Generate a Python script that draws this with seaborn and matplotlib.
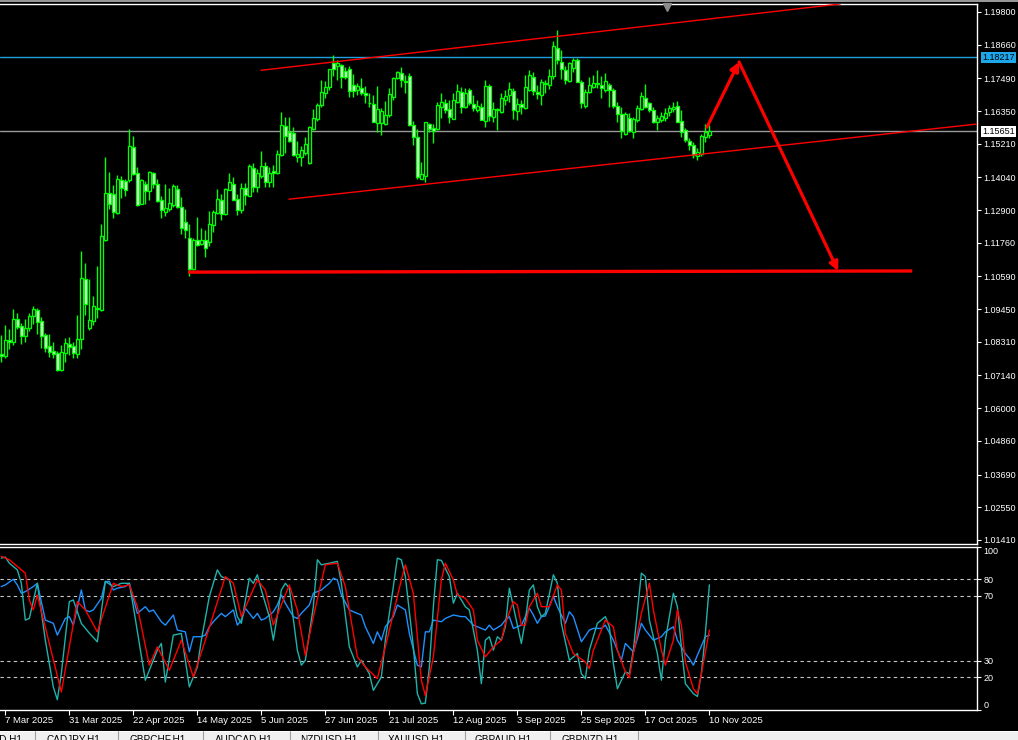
import numpy as np
import pandas as pd
import matplotlib
matplotlib.use("Agg")
import matplotlib.pyplot as plt
from matplotlib.transforms import blended_transform_factory
from matplotlib.lines import Line2D
import seaborn as sns

# ---------------- data ----------------
dates = pd.bdate_range("2025-03-06", periods=178)

opens = [1.0790,1.0783,1.0837,1.0832,1.0910,1.0885,1.0850,1.0878,1.0920,1.0941,
         1.0904,1.0855,1.0816,1.0799,1.0792,1.0733,1.0793,1.0825,1.0817,1.0790,
         1.0840,1.1049,1.0880,1.0904,1.0949,1.0943,1.1187,1.1349,1.1345,1.1279,
         1.1394,1.1391,1.1394,1.1509,1.1418,1.1312,1.1380,1.1358,1.1418,1.1380,
         1.1324,1.1284,1.1294,1.1308,1.1364,1.1301,1.1248,1.1192,1.1085,1.1186,
         1.1173,1.1186,1.1178,1.1238,1.1279,1.1325,1.1275,1.1361,1.1380,1.1329,
         1.1290,1.1367,1.1340,1.1436,1.1369,1.1409,1.1444,1.1389,1.1426,1.1420,
         1.1482,1.1582,1.1562,1.1557,1.1476,1.1474,1.1488,1.1453,1.1573,1.1606,
         1.1655,1.1697,1.1720,1.1804,1.1792,1.1795,1.1776,1.1780,1.1726,1.1708,
         1.1714,1.1699,1.1664,1.1658,1.1595,1.1595,1.1590,1.1620,1.1685,1.1750,
         1.1767,1.1741,1.1757,1.1585,1.1544,1.1399,1.1409,1.1590,1.1576,1.1571,
         1.1650,1.1662,1.1641,1.1609,1.1668,1.1701,1.1648,1.1708,1.1658,1.1640,
         1.1649,1.1600,1.1722,1.1615,1.1638,1.1633,1.1674,1.1690,1.1705,1.1635,
         1.1658,1.1645,1.1710,1.1755,1.1703,1.1691,1.1731,1.1726,1.1758,1.1854,
         1.1807,1.1779,1.1740,1.1786,1.1812,1.1735,1.1652,1.1700,1.1720,1.1730,
         1.1726,1.1709,1.1726,1.1709,1.1652,1.1624,1.1554,1.1610,1.1563,1.1605,
         1.1641,1.1679,1.1662,1.1638,1.1598,1.1605,1.1612,1.1631,1.1641,1.1652,
         1.1600,1.1569,1.1531,1.1517,1.1480,1.1487,1.1545,1.1553]
highs = [1.0855,1.0890,1.0876,1.0946,1.0931,1.0896,1.0910,1.0931,1.0956,1.0948,
         1.0918,1.0861,1.0857,1.0830,1.0801,1.0820,1.0844,1.0848,1.0830,1.0925,
         1.1148,1.1106,1.1050,1.0991,1.1095,1.1242,1.1475,1.1423,1.1377,1.1412,
         1.1410,1.1398,1.1573,1.1548,1.1440,1.1398,1.1391,1.1426,1.1424,1.1398,
         1.1340,1.1380,1.1366,1.1380,1.1378,1.1336,1.1294,1.1243,1.1192,1.1266,
         1.1227,1.1220,1.1287,1.1290,1.1364,1.1345,1.1366,1.1419,1.1406,1.1346,
         1.1383,1.1385,1.1451,1.1453,1.1432,1.1496,1.1457,1.1439,1.1447,1.1499,
         1.1632,1.1613,1.1613,1.1578,1.1532,1.1513,1.1544,1.1583,1.1641,1.1664,
         1.1743,1.1741,1.1780,1.1830,1.1813,1.1799,1.1787,1.1792,1.1764,1.1732,
         1.1749,1.1722,1.1697,1.1691,1.1722,1.1645,1.1671,1.1714,1.1753,1.1776,
         1.1787,1.1761,1.1769,1.1602,1.1572,1.1459,1.1598,1.1592,1.1590,1.1668,
         1.1699,1.1676,1.1673,1.1699,1.1729,1.1718,1.1714,1.1714,1.1691,1.1674,
         1.1662,1.1743,1.1728,1.1666,1.1645,1.1697,1.1708,1.1737,1.1716,1.1679,
         1.1673,1.1761,1.1778,1.1772,1.1726,1.1747,1.1743,1.1782,1.1879,1.1917,
         1.1848,1.1791,1.1807,1.1821,1.1819,1.1743,1.1712,1.1755,1.1761,1.1778,
         1.1758,1.1767,1.1732,1.1716,1.1666,1.1650,1.1631,1.1627,1.1615,1.1656,
         1.1702,1.1728,1.1668,1.1650,1.1621,1.1631,1.1647,1.1656,1.1668,1.1670,
         1.1639,1.1577,1.1540,1.1528,1.1505,1.1554,1.1589,1.1588]
lows = [1.0762,1.0776,1.0806,1.0820,1.0876,1.0823,1.0830,1.0869,1.0892,1.0857,
        1.0811,1.0795,1.0779,1.0774,1.0730,1.0730,1.0762,1.0785,1.0776,1.0776,
        1.0806,1.0925,1.0873,1.0890,1.0913,1.0940,1.1182,1.1294,1.1261,1.1275,
        1.1333,1.1340,1.1387,1.1412,1.1305,1.1310,1.1312,1.1325,1.1366,1.1317,
        1.1264,1.1270,1.1287,1.1302,1.1297,1.1208,1.1193,1.1062,1.1080,1.1166,
        1.1168,1.1128,1.1166,1.1213,1.1275,1.1255,1.1273,1.1359,1.1325,1.1273,
        1.1280,1.1308,1.1339,1.1354,1.1354,1.1403,1.1369,1.1371,1.1371,1.1416,
        1.1479,1.1488,1.1528,1.1478,1.1459,1.1444,1.1482,1.1451,1.1569,1.1601,
        1.1650,1.1679,1.1708,1.1757,1.1743,1.1714,1.1746,1.1685,1.1685,1.1691,
        1.1691,1.1662,1.1650,1.1598,1.1562,1.1552,1.1586,1.1615,1.1674,1.1748,
        1.1720,1.1697,1.1583,1.1517,1.1397,1.1397,1.1389,1.1563,1.1525,1.1569,
        1.1610,1.1627,1.1592,1.1606,1.1664,1.1629,1.1645,1.1656,1.1635,1.1631,
        1.1604,1.1581,1.1600,1.1598,1.1569,1.1627,1.1656,1.1668,1.1607,1.1604,
        1.1624,1.1642,1.1705,1.1691,1.1677,1.1656,1.1697,1.1712,1.1747,1.1798,
        1.1747,1.1730,1.1737,1.1772,1.1735,1.1645,1.1645,1.1697,1.1716,1.1714,
        1.1682,1.1702,1.1650,1.1645,1.1596,1.1540,1.1552,1.1561,1.1540,1.1598,
        1.1639,1.1645,1.1633,1.1592,1.1569,1.1598,1.1601,1.1619,1.1633,1.1598,
        1.1546,1.1526,1.1499,1.1471,1.1464,1.1480,1.1526,1.1541]
closes = [1.0783,1.0837,1.0832,1.0910,1.0884,1.0850,1.0878,1.0920,1.0945,1.0901,
          1.0853,1.0809,1.0797,1.0790,1.0733,1.0795,1.0826,1.0814,1.0793,1.0840,
          1.1053,1.0962,1.0906,1.0956,1.0947,1.1199,1.1349,1.1310,1.1282,1.1397,
          1.1366,1.1359,1.1512,1.1417,1.1308,1.1395,1.1357,1.1422,1.1382,1.1322,
          1.1291,1.1296,1.1314,1.1373,1.1301,1.1227,1.1220,1.1085,1.1186,1.1168,
          1.1186,1.1159,1.1241,1.1282,1.1329,1.1278,1.1364,1.1387,1.1326,1.1290,
          1.1367,1.1343,1.1444,1.1369,1.1418,1.1444,1.1389,1.1418,1.1418,1.1485,
          1.1585,1.1548,1.1532,1.1483,1.1485,1.1499,1.1520,1.1578,1.1611,1.1656,
          1.1701,1.1718,1.1780,1.1780,1.1802,1.1755,1.1755,1.1706,1.1706,1.1722,
          1.1697,1.1690,1.1662,1.1598,1.1641,1.1635,1.1620,1.1694,1.1749,1.1771,
          1.1743,1.1737,1.1585,1.1544,1.1404,1.1416,1.1597,1.1574,1.1567,1.1656,
          1.1666,1.1639,1.1615,1.1673,1.1704,1.1648,1.1699,1.1662,1.1645,1.1652,
          1.1605,1.1722,1.1619,1.1642,1.1642,1.1679,1.1686,1.1712,1.1640,1.1659,
          1.1650,1.1720,1.1761,1.1705,1.1694,1.1735,1.1728,1.1758,1.1863,1.1812,
          1.1782,1.1742,1.1801,1.1812,1.1735,1.1662,1.1700,1.1726,1.1733,1.1733,
          1.1714,1.1740,1.1709,1.1654,1.1625,1.1566,1.1624,1.1566,1.1607,1.1645,
          1.1686,1.1650,1.1639,1.1598,1.1610,1.1617,1.1627,1.1647,1.1650,1.1598,
          1.1563,1.1535,1.1517,1.1482,1.1494,1.1549,1.1563,1.1565]

price_ticks = [1.19800,1.18660,1.17490,1.16350,1.15210,1.14040,1.12900,1.11760,
               1.10590,1.09450,1.08310,1.07140,1.06000,1.04860,1.03690,1.02550,1.01410]
marked_level = 1.18217
bid_price = 1.15651

upper_channel_idx = [64.9, 209.7]
upper_channel_px = [1.1777, 1.2008]
lower_channel_idx = [71.9, 244.7]
lower_channel_px = [1.1328, 1.1591]
target_idx = [46.7, 227.7]
target_px = [1.1074, 1.1078]
path_idx = [176.4, 184.4, 209.2]
path_px = [1.1579, 1.1806, 1.1078]

sto_main_idx = [0,1,2,4,5,6,7,9,11,13,14,15,17,18,20,22,24,26,28,30,32,33,36,38,39,40,41,43,45,47,
                49,50,52,54,55,57,59,60,62,63,64,65,67,68,70,71,72,74,75,76,78,79,80,82,84,85,87,89,90,92,
                93,95,96,98,99,100,101,103,104,105,106,107,108,109,110,112,113,114,116,117,119,120,121,122,
                123,124,125,126,127,128,130,131,132,133,134,135,136,138,139,140,142,144,145,146,147,149,151,
                152,153,154,156,157,158,160,161,162,164,165,166,168,169,170,171,173,174,175,176,177]
sto_main = [92.9,93.5,89.8,85.7,77.5,55.0,56.0,77.5,42.7,14.1,6.3,22.2,66.3,67.3,53.0,47.0,41.7,78.6,75.5,77.5,
            77.5,63.2,18.2,30.4,36.6,40.7,17.1,45.8,46.8,14.1,26.3,42.7,69.4,85.7,81.6,79.6,57.1,53.0,80.6,77.5,
            82.7,73.4,57.1,42.7,73.4,77.5,74.5,36.6,27.4,30.4,63.2,91.9,88.8,89.8,90.9,77.5,38.6,26.3,30.4,22.2,
            12.0,20.2,42.7,75.5,92.9,91.9,81.6,38.6,10.0,3.8,4.2,26.3,63.2,91.9,91.5,81.6,65.3,71.4,63.2,61.2,
            36.6,16.1,42.7,44.8,36.6,44.8,42.7,50.9,74.5,63.2,40.7,55.0,73.4,76.5,63.2,57.1,59.1,82.7,77.5,53.0,
            30.4,34.5,22.2,19.2,36.6,53.0,57.1,50.9,28.4,13.0,23.3,22.2,36.6,83.7,81.6,55.0,34.5,18.2,42.7,71.4,
            63.2,38.6,16.1,10.0,8.3,22.2,46.8,76.5]
sto_signal_idx = [0,2,4,6,7,8,9,15,19,21,24,28,30,32,34,37,39,42,45,48,51,56,58,60,64,66,68,72,74,76,
                  78,81,84,86,89,91,94,96,100,101,103,105,106,108,110,111,113,114,116,118,119,121,123,125,126,128,129,130,
                  131,132,134,135,137,139,140,141,143,146,147,148,150,151,153,154,156,157,158,160,162,163,165,166,168,169,
                  170,171,173,174,175,177]
sto_signal = [94.0,91.9,87.8,83.7,67.3,61.2,70.4,11.0,66.3,61.2,47.8,77.5,75.5,76.5,63.2,27.4,38.6,24.3,42.7,20.2,
              42.7,81.6,77.5,57.1,79.6,73.4,52.0,76.5,61.2,33.5,57.1,88.8,89.8,75.5,32.5,26.3,19.2,38.6,79.6,88.8,
              71.4,18.2,8.9,32.5,79.6,89.8,79.6,70.4,68.3,61.2,42.7,32.5,38.6,42.7,53.0,66.3,64.2,51.9,51.9,63.2,
              71.4,63.2,63.2,76.5,73.4,46.8,34.5,29.4,25.3,36.6,48.9,55.0,50.9,36.6,23.3,19.8,34.5,59.1,77.5,61.2,
              36.6,27.4,42.7,61.2,51.9,29.4,13.0,10.0,22.2,48.9]
rsi_idx = [0,1,3,4,5,6,8,9,10,11,13,14,16,17,18,20,21,22,23,25,26,27,28,29,31,32,33,34,36,37,
           38,40,41,43,44,46,47,48,50,51,52,53,55,56,58,59,60,61,63,64,65,66,68,69,70,71,73,74,75,77,
           78,80,82,83,84,85,87,88,90,91,93,94,95,96,98,99,101,102,104,105,106,107,108,110,111,113,115,116,118,120,
           121,122,123,125,126,127,128,129,130,132,133,134,135,136,138,139,141,142,143,145,147,148,150,151,153,155,156,158,
           159,160,161,163,165,166,168,169,171,172,173,174,176,177]
rsi = [75.5,76.5,80.0,76.5,71.4,72.4,75.5,77.5,66.3,55.0,53.0,45.8,56.0,57.1,51.9,73.4,61.2,60.1,61.2,68.3,
       78.6,78.6,73.4,74.5,75.5,77.5,68.3,59.1,63.2,60.1,61.2,54.0,51.9,58.1,48.9,47.8,35.6,44.8,44.8,45.8,
       50.9,54.0,59.1,57.1,61.2,51.9,55.0,62.2,56.0,59.1,55.0,56.0,60.1,64.2,70.4,65.3,57.1,56.0,59.1,64.2,
       71.4,73.4,77.5,80.6,79.6,70.4,61.2,60.1,58.1,50.9,40.7,47.8,42.7,50.9,57.1,64.2,61.2,46.8,27.4,26.3,
       47.8,47.8,55.0,54.0,56.0,58.1,57.1,57.1,51.9,49.9,48.9,51.9,48.9,51.9,55.0,57.1,49.9,50.9,51.9,62.2,
       58.1,53.0,57.1,57.5,69.4,63.2,53.0,60.1,57.1,41.7,48.9,49.9,49.9,51.9,42.7,30.4,40.7,35.6,43.7,53.0,
       48.9,42.7,44.8,47.8,50.9,42.7,34.5,31.5,27.4,33.5,44.8,45.8]
levels = [20, 30, 70, 80]
ind_labels = [100, 80, 70, 30, 20, 0]
tabs = ["EURUSD,H1", "CADJPY,H1", "GBPCHF,H1", "AUDCAD,H1", "NZDUSD,H1",
        "XAUUSD,H1", "GBPAUD,H1", "GBPNZD,H1"]

# ---------------- style ----------------
sns.set_theme(style="dark")
plt.rcParams["font.family"] = ["Liberation Sans", "DejaVu Sans"]
FS = 6.5
LIME = "#00FF00"

W, H = 1018, 740
fig = plt.figure(figsize=(W / 100, H / 100), dpi=100, facecolor="black")


def rect(x0, y0, x1, y1):
    return [x0 / W, 1 - y1 / H, (x1 - x0) / W, (y1 - y0) / H]


ax = fig.add_axes(rect(0, 3.5, 977, 543.5))
ax2 = fig.add_axes(rect(0, 546.5, 977, 710))
XL = (-0.33, 243.9)

for a in (ax, ax2):
    a.set_facecolor("black")
    a.grid(False)
    a.set_xlim(*XL)
    for s in ("top", "right", "bottom"):
        a.spines[s].set_visible(True)
        a.spines[s].set_color("white")
        a.spines[s].set_linewidth(1.0)
    a.spines["left"].set_visible(False)

# ---------------- candles ----------------
o = np.array(opens); h = np.array(highs); l = np.array(lows); c = np.array(closes)
idx = np.arange(len(o))
ax.vlines(idx, l, h, color=LIME, linewidth=1.0, zorder=3)
bottoms = np.minimum(o, c)
heights = np.maximum(np.abs(c - o), 0.00004)
fills = np.where(c >= o, "black", "white")
ax.bar(idx, heights, bottom=bottoms, width=0.75, color=fills, edgecolor=LIME,
       linewidth=0.95, zorder=4)

ax.set_ylim(1.01288, 1.20096)

# horizontal lines
ax.axhline(marked_level, color="#1E9FE0", linewidth=1.0, zorder=2)
ax.axhline(bid_price, color="#9A9A9A", linewidth=1.0, zorder=2)

# trend lines & target
ax.plot(upper_channel_idx, upper_channel_px, color="red", linewidth=1.0, zorder=5)
ax.plot(lower_channel_idx, lower_channel_px, color="red", linewidth=1.0, zorder=5)
ax.plot(target_idx, target_px, color="red", linewidth=2.4, solid_capstyle="butt", zorder=5)
for i in range(len(path_idx) - 1):
    ax.annotate("", xy=(path_idx[i + 1], path_px[i + 1]), xytext=(path_idx[i], path_px[i]),
                arrowprops=dict(arrowstyle="-|>", color="red", lw=2.3, mutation_scale=13,
                                shrinkA=0, shrinkB=0), zorder=6)

# shift marker
ax.plot([166.5], [0.993], marker="v", markersize=6, color="#8C8C8C",
        transform=blended_transform_factory(ax.transData, ax.transAxes), clip_on=False, zorder=7)

# price axis
ax.yaxis.tick_right()
ax.set_yticks(price_ticks)
ax.set_yticklabels([f"{v:.5f}" for v in price_ticks])
ax.tick_params(axis="y", colors="white", labelcolor="white", labelsize=FS, length=3,
               width=0.8, pad=1.5, direction="out", right=True, left=False)
ax.tick_params(axis="x", bottom=False, labelbottom=False)
trans = blended_transform_factory(ax.transAxes, ax.transData)
ax.text(982 / 977, marked_level, f"{marked_level:.5f}", transform=trans, ha="left", va="center",
        fontsize=FS, color="black", clip_on=False,
        bbox=dict(boxstyle="square,pad=0.12", fc="#1EA8EC", ec="none"))
ax.text(982 / 977, bid_price, f"{bid_price:.5f}", transform=trans, ha="left", va="center",
        fontsize=FS, color="black", clip_on=False,
        bbox=dict(boxstyle="square,pad=0.12", fc="white", ec="none"))

# ---------------- indicator ----------------
ax2.set_ylim(0, 100)
for lv in levels:
    ax2.axhline(lv, color="#C8C8C8", linewidth=0.8, linestyle=(0, (3, 3)), zorder=1)
sns.lineplot(x=rsi_idx, y=rsi, ax=ax2, color="#1E90FF", linewidth=1.0,
             estimator=None, sort=False, zorder=3)
sns.lineplot(x=sto_main_idx, y=sto_main, ax=ax2, color="#20B2AA", linewidth=1.0,
             estimator=None, sort=False, zorder=4)
sns.lineplot(x=sto_signal_idx, y=sto_signal, ax=ax2, color="#FF0000", linewidth=1.0,
             estimator=None, sort=False, zorder=5)
ax2.set_xlim(*XL)
ax2.set_xlabel("")
ax2.set_ylabel("")

ax2.yaxis.tick_right()
ax2.set_yticks(ind_labels)
ax2.set_yticklabels([str(v) for v in ind_labels])
ax2.tick_params(axis="y", colors="white", labelcolor="white", labelsize=FS, length=3,
                width=0.8, pad=1.5, right=True, left=False)
for t in ax2.get_yticklabels():
    if t.get_text() == "100":
        t.set_va("top")
    elif t.get_text() == "0":
        t.set_va("bottom")

xt = list(range(1, len(dates), 16))
ax2.set_xticks(xt)
ax2.set_xticklabels([f"{dates[k].day} {dates[k].strftime('%b %Y')}" for k in xt])
ax2.tick_params(axis="x", colors="white", labelcolor="white", labelsize=FS + 0.3, length=3.5,
                width=0.8, pad=0.5, bottom=True, direction="out")
for t in ax2.get_xticklabels():
    t.set_ha("left")

# ---------------- window chrome ----------------
fig.add_artist(Line2D([0, 1], [1 - 0.9 / H, 1 - 0.9 / H], color="#A8A8A8", linewidth=1.3))

tab_ax = fig.add_axes(rect(0, 731, 1018, 740))
tab_ax.set_facecolor("#F0F0F0")
tab_ax.set_xlim(0, W)
tab_ax.set_ylim(0, 1)
tab_ax.set_xticks([])
tab_ax.set_yticks([])
for s in tab_ax.spines.values():
    s.set_visible(False)
tab_ax.axhline(1, color="white", linewidth=1.5)
seps = [35, 118, 203, 290, 378, 465, 550, 638]
tab_x = [22, 47, 130, 215, 300, 388, 475, 562]
for sx in seps:
    tab_ax.axvline(sx, color="#A0A0A0", linewidth=0.8)
for i, (name, tx) in enumerate(zip(tabs, tab_x)):
    tab_ax.text(tx, 0.58, name, ha="right" if i == 0 else "left", va="top",
                fontsize=FS + 0.7, color="black", clip_on=True)

fig.savefig("out.png", dpi=100, facecolor="black")
